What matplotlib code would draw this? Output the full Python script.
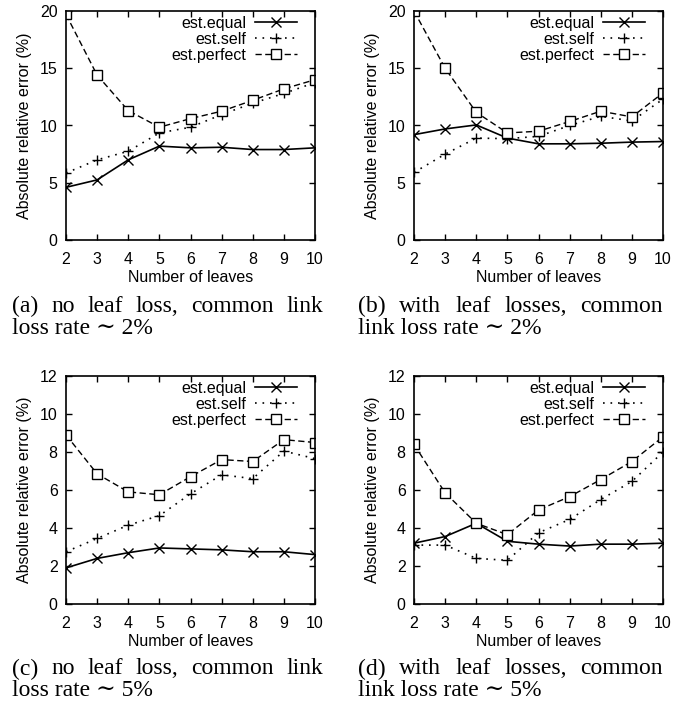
import matplotlib
matplotlib.use("Agg")
import matplotlib.pyplot as plt

plt.rcParams['font.family'] = ['Liberation Sans', 'DejaVu Sans']

leaves = [2, 3, 4, 5, 6, 7, 8, 9, 10]

# (a) no leaf loss, ~2%
a_equal = [4.6, 5.25, 7.0, 8.2, 8.05, 8.1, 7.9, 7.9, 8.05]
a_self = [5.85, 7.0, 7.75, 9.35, 9.85, 10.95, 11.95, 12.8, 13.75]
a_perfect = [19.7, 14.4, 11.3, 9.85, 10.6, 11.25, 12.2, 13.2, 14.0]

# (b) with leaf losses, ~2%
b_equal = [9.2, 9.7, 10.05, 8.9, 8.4, 8.4, 8.45, 8.55, 8.6]
b_self = [5.9, 7.5, 8.9, 8.85, 9.05, 10.0, 10.8, 10.4, 12.3]
b_perfect = [20.0, 15.0, 11.15, 9.35, 9.5, 10.35, 11.25, 10.75, 12.85]

# (c) no leaf loss, ~5%
c_equal = [1.9, 2.4, 2.7, 2.95, 2.9, 2.85, 2.75, 2.75, 2.6]
c_self = [2.75, 3.45, 4.15, 4.65, 5.8, 6.8, 6.6, 8.05, 7.65]
c_perfect = [8.9, 6.85, 5.9, 5.75, 6.7, 7.6, 7.5, 8.65, 8.5]

# (d) with leaf losses, ~5%
d_equal = [3.2, 3.55, 4.25, 3.3, 3.15, 3.05, 3.15, 3.15, 3.2]
d_self = [3.1, 3.1, 2.4, 2.3, 3.75, 4.45, 5.5, 6.45, 8.0]
d_perfect = [8.4, 5.85, 4.25, 3.65, 4.95, 5.65, 6.55, 7.5, 8.8]

captions = [
    ("(a) no leaf loss, common link", "loss rate \u223c 2%"),
    ("(b) with leaf losses, common", "link loss rate \u223c 2%"),
    ("(c) no leaf loss, common link", "loss rate \u223c 5%"),
    ("(d) with leaf losses, common", "link loss rate \u223c 5%"),
]

W, H = 691, 715
fig = plt.figure(figsize=(W / 100, H / 100), dpi=100)


def px_axes(left, top, w, h):
    return fig.add_axes([left / W, 1 - (top + h) / H, w / W, h / H])


panels = [
    (px_axes(66, 11, 249, 229), a_equal, a_self, a_perfect, 20, [0, 5, 10, 15, 20]),
    (px_axes(414, 11, 249, 229), b_equal, b_self, b_perfect, 20, [0, 5, 10, 15, 20]),
    (px_axes(66, 376, 249, 228), c_equal, c_self, c_perfect, 12, [0, 2, 4, 6, 8, 10, 12]),
    (px_axes(414, 376, 249, 228), d_equal, d_self, d_perfect, 12, [0, 2, 4, 6, 8, 10, 12]),
]

fs = 11.5
for ax, eq, se, pe, ymax, yt in panels:
    ax.plot(leaves, eq, color='black', lw=1.2, marker='x', ms=6.5, mew=1.0,
            label='est.equal')
    ax.plot(leaves, se, color='black', lw=1.2, ls=(0, (1, 3.5)), marker='+',
            ms=7, mew=1.0, label='est.self')
    ax.plot(leaves, pe, color='black', lw=1.0, ls=(0, (4.5, 2.5)), marker='s',
            ms=6.5, mew=1.0, mfc='white', label='est.perfect')
    ax.set_xlim(2, 10)
    ax.set_ylim(0, ymax)
    ax.set_xticks(leaves)
    ax.set_yticks(yt)
    ax.tick_params(direction='in', top=True, right=True, length=4, width=1,
                   labelsize=fs)
    ax.tick_params(axis='x', pad=9)
    ax.tick_params(axis='y', pad=6)
    for s in ax.spines.values():
        s.set_linewidth(1.2)
    h = ax.get_position().height * H
    ax.set_xlabel('Number of leaves', fontsize=fs)
    ax.xaxis.label.set_va('center')
    ax.xaxis.set_label_coords(0.5, -38 / h)
    ax.set_ylabel('Absolute relative error (%)', fontsize=fs, labelpad=6)
    ax.legend(loc='upper right', bbox_to_anchor=(1 - 18 / 249, 1 - 5 / 229),
              frameon=False, markerfirst=False, fontsize=fs, handlelength=2.6,
              handletextpad=0.6, labelspacing=0.05, borderpad=0,
              borderaxespad=0)

# captions, first line justified
renderer = fig.canvas.get_renderer()
cap_x = [(12, 323), (358, 663), (12, 323), (358, 663)]
cap_y = [(306, 328), (306, 328), (669, 691), (669, 691)]
serif = ['Liberation Serif', 'DejaVu Serif']
cfs = 17
for (l1, l2), (x0, x1), (y1, y2) in zip(captions, cap_x, cap_y):
    words = l1.split()
    texts = [fig.text(0, 1 - y1 / H, w_, family=serif, fontsize=cfs, va='center')
             for w_ in words]
    widths = [t.get_window_extent(renderer).width for t in texts]
    gap = (x1 - x0 - sum(widths)) / (len(words) - 1)
    x = x0
    for t, w_ in zip(texts, widths):
        t.set_x(x / W)
        x += w_ + gap
    fig.text(x0 / W, 1 - y2 / H, l2, family=serif, fontsize=cfs, va='center')

fig.savefig('out.png', dpi=100)
